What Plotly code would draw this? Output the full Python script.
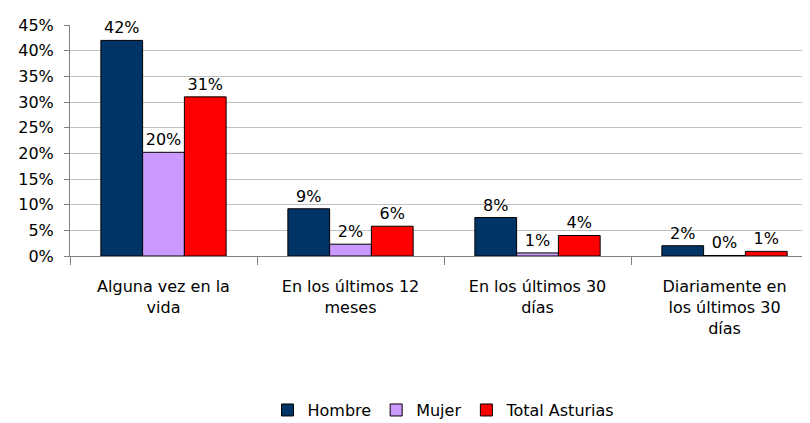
import plotly.graph_objects as go

categories = [
    "Alguna vez en la<br>vida",
    "En los últimos 12<br>meses",
    "En los últimos 30<br>días",
    "Diariamente en<br>los últimos 30<br>días",
]
hombre = [42.0, 9.2, 7.5, 2.0]
mujer = [20.2, 2.3, 0.6, 0.1]
total_asturias = [31.0, 5.8, 4.0, 0.9]
hombre_labels = ["42%", "9%", "8%", "2%"]
mujer_labels = ["20%", "2%", "1%", "0%"]
total_labels = ["31%", "6%", "4%", "1%"]
y_ticks = [0, 5, 10, 15, 20, 25, 30, 35, 40, 45]

FONT = "DejaVu Sans"
FSIZE = 16

fig = go.Figure()
series = [
    ("Hombre", hombre, hombre_labels, "#003366"),
    ("Mujer", mujer, mujer_labels, "#CC99FF"),
    ("Total Asturias", total_asturias, total_labels, "#FF0000"),
]
for name, vals, labels, color in series:
    fig.add_trace(go.Bar(
        name=name, x=categories, y=vals,
        text=labels, textposition="outside", cliponaxis=False,
        textfont=dict(family=FONT, size=FSIZE, color="black"),
        marker=dict(color=color, line=dict(color="black", width=1)),
    ))

# page body has an 8px margin, so the figure is shifted left/up to compensate
fig.update_layout(
    width=810, height=423,
    margin=dict(l=62, r=0, t=17, b=175),
    plot_bgcolor="white", paper_bgcolor="white",
    barmode="group", bargap=0.33, bargroupgap=0,
    font=dict(family=FONT, size=FSIZE, color="black"),
    showlegend=True,
    legend=dict(orientation="h", x=0.5, xanchor="center", y=-0.667, yanchor="middle",
                font=dict(family=FONT, size=FSIZE), itemwidth=30),
)
fig.update_xaxes(
    range=[-0.5, 3.5],
    showline=True, linecolor="#808080", linewidth=1,
    ticks="outside", tickson="boundaries", ticklen=8, tickcolor="#808080",
    tickfont=dict(family=FONT, size=FSIZE), ticklabelstandoff=16,
)
fig.update_yaxes(
    range=[0, 45], tickvals=y_ticks, ticktext=[f"{v}%" for v in y_ticks],
    showline=True, linecolor="#808080", linewidth=1,
    ticks="outside", ticklen=5, tickcolor="#808080",
    showgrid=True, gridcolor="#C0C0C0", gridwidth=1,
    tickfont=dict(family=FONT, size=FSIZE), ticklabelstandoff=7,
    zeroline=False,
)

fig.write_html("out.html")
